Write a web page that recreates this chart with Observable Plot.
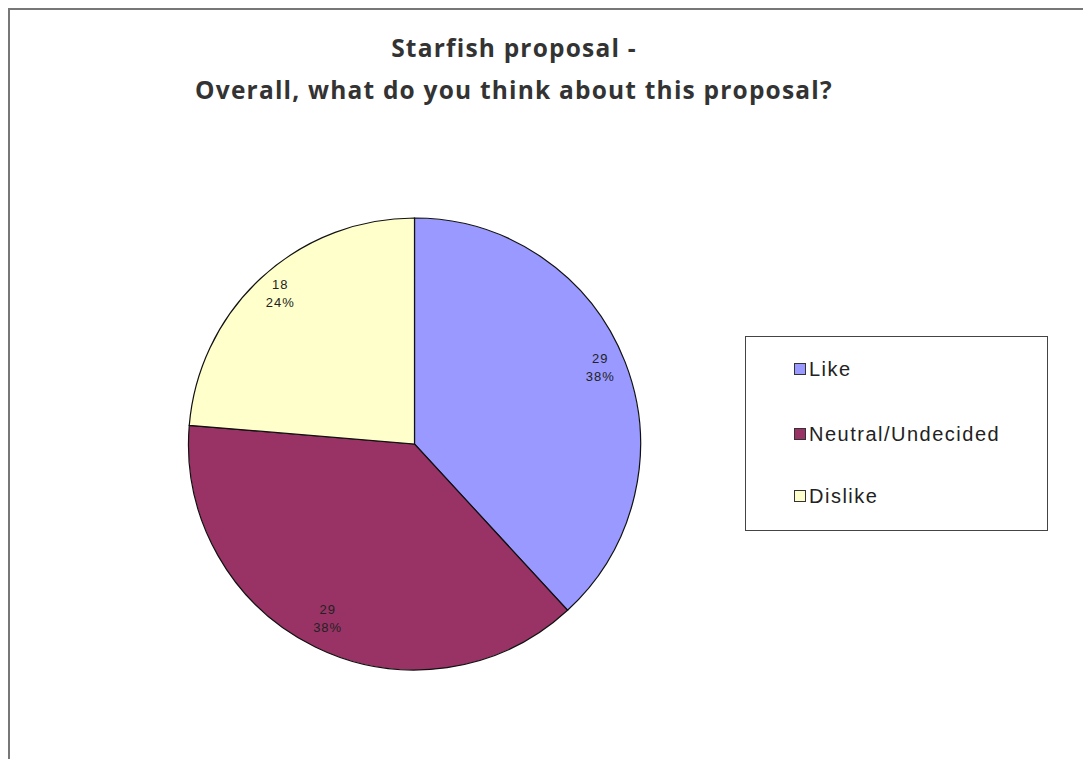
<!DOCTYPE html>
<html><head><meta charset="utf-8">
<script src="https://cdn.jsdelivr.net/npm/d3@7"></script>
<script src="https://cdn.jsdelivr.net/npm/@observablehq/plot@0.6"></script>
<style>
html,body{margin:0;padding:0;background:#fff;}
#wrap{position:relative;width:1083px;height:759px;overflow:hidden;}
#border{position:absolute;left:8px;top:8px;width:1200px;height:900px;border-left:2px solid #777;border-top:2px solid #777;}
#title{position:absolute;left:0;top:27px;width:1028px;text-align:center;font-family:"Open Sans";font-weight:700;font-size:24.5px;letter-spacing:1.2px;color:#333;line-height:42px;}
#legend{position:absolute;left:745px;top:336px;width:303px;height:195px;border:1px solid #444;box-sizing:border-box;font-family:"Liberation Sans";font-size:20px;letter-spacing:1.5px;color:#222;}
.item{position:absolute;left:48px;height:22px;display:flex;align-items:center;}
.sw{width:10px;height:10px;border:1px solid #333;margin-right:3px;flex:none;}
#chart{position:absolute;left:0;top:0;}
</style></head>
<body>
<div id="wrap">
  <div id="border"></div>
  <div id="chart"></div>
  <div id="title"></div>
  <div id="legend"></div>
</div>
<script>
const titleLines = ["Starfish proposal -", "Overall, what do you think about this proposal?"];
const categories = ["Like", "Neutral/Undecided", "Dislike"];
const counts = [29, 29, 18];
const percents = ["38%", "38%", "24%"];
const colors = ["#9999FF", "#993366", "#FFFFCC"];

document.getElementById("title").innerHTML = titleLines.join("<br>");

const pie = d3.pie().sort(null).value(d => d.count)(
  categories.map((c, i) => ({category: c, count: counts[i], pct: percents[i], color: colors[i]}))
);
const slices = pie.map(p => {
  const mid = (p.startAngle + p.endAngle) / 2;
  return {...p.data, startAngle: p.startAngle, endAngle: p.endAngle, lx: 0.88 * Math.sin(mid), ly: 0.88 * Math.cos(mid)};
});

function arcs(index, scales) {
  const cx = scales.x(0), cy = scales.y(0);
  const r = scales.x(1) - scales.x(0);
  const arc = d3.arc().innerRadius(0).outerRadius(r);
  const g = d3.create("svg:g").attr("transform", `translate(${cx},${cy})`);
  g.selectAll("path").data(slices).join("path")
    .attr("d", d => arc({startAngle: d.startAngle, endAngle: d.endAngle}))
    .attr("fill", d => d.color)
    .attr("stroke", "#111")
    .attr("stroke-width", 1.2);
  return g.node();
}

const chart = Plot.plot({
  width: 1083,
  height: 759,
  margin: 0,
  x: {domain: [-1, 1], range: [188.5, 640.5], axis: null},
  y: {domain: [-1, 1], range: [670, 218], axis: null},
  style: {background: "transparent", overflow: "visible"},
  marks: [
    arcs,
    Plot.text(slices, {
      x: "lx", y: "ly",
      text: d => `${d.count}\n${d.pct}`,
      fontFamily: "Liberation Sans",
      fontSize: 13,
      lineHeight: 1.38,
      fill: "#222",
      textAnchor: "middle",
      dy: -6
    })
  ]
});
chart.querySelectorAll("text").forEach(t => t.setAttribute("letter-spacing", "1"));
document.getElementById("chart").appendChild(chart);

const legend = document.getElementById("legend");
const itemTops = [21, 86, 148];
categories.forEach((c, i) => {
  const it = document.createElement("div");
  it.className = "item";
  it.style.top = itemTops[i] + "px";
  const sw = document.createElement("div");
  sw.className = "sw";
  sw.style.background = colors[i];
  const tx = document.createElement("span");
  tx.textContent = c;
  it.appendChild(sw); it.appendChild(tx);
  legend.appendChild(it);
});
</script>
</body></html>
